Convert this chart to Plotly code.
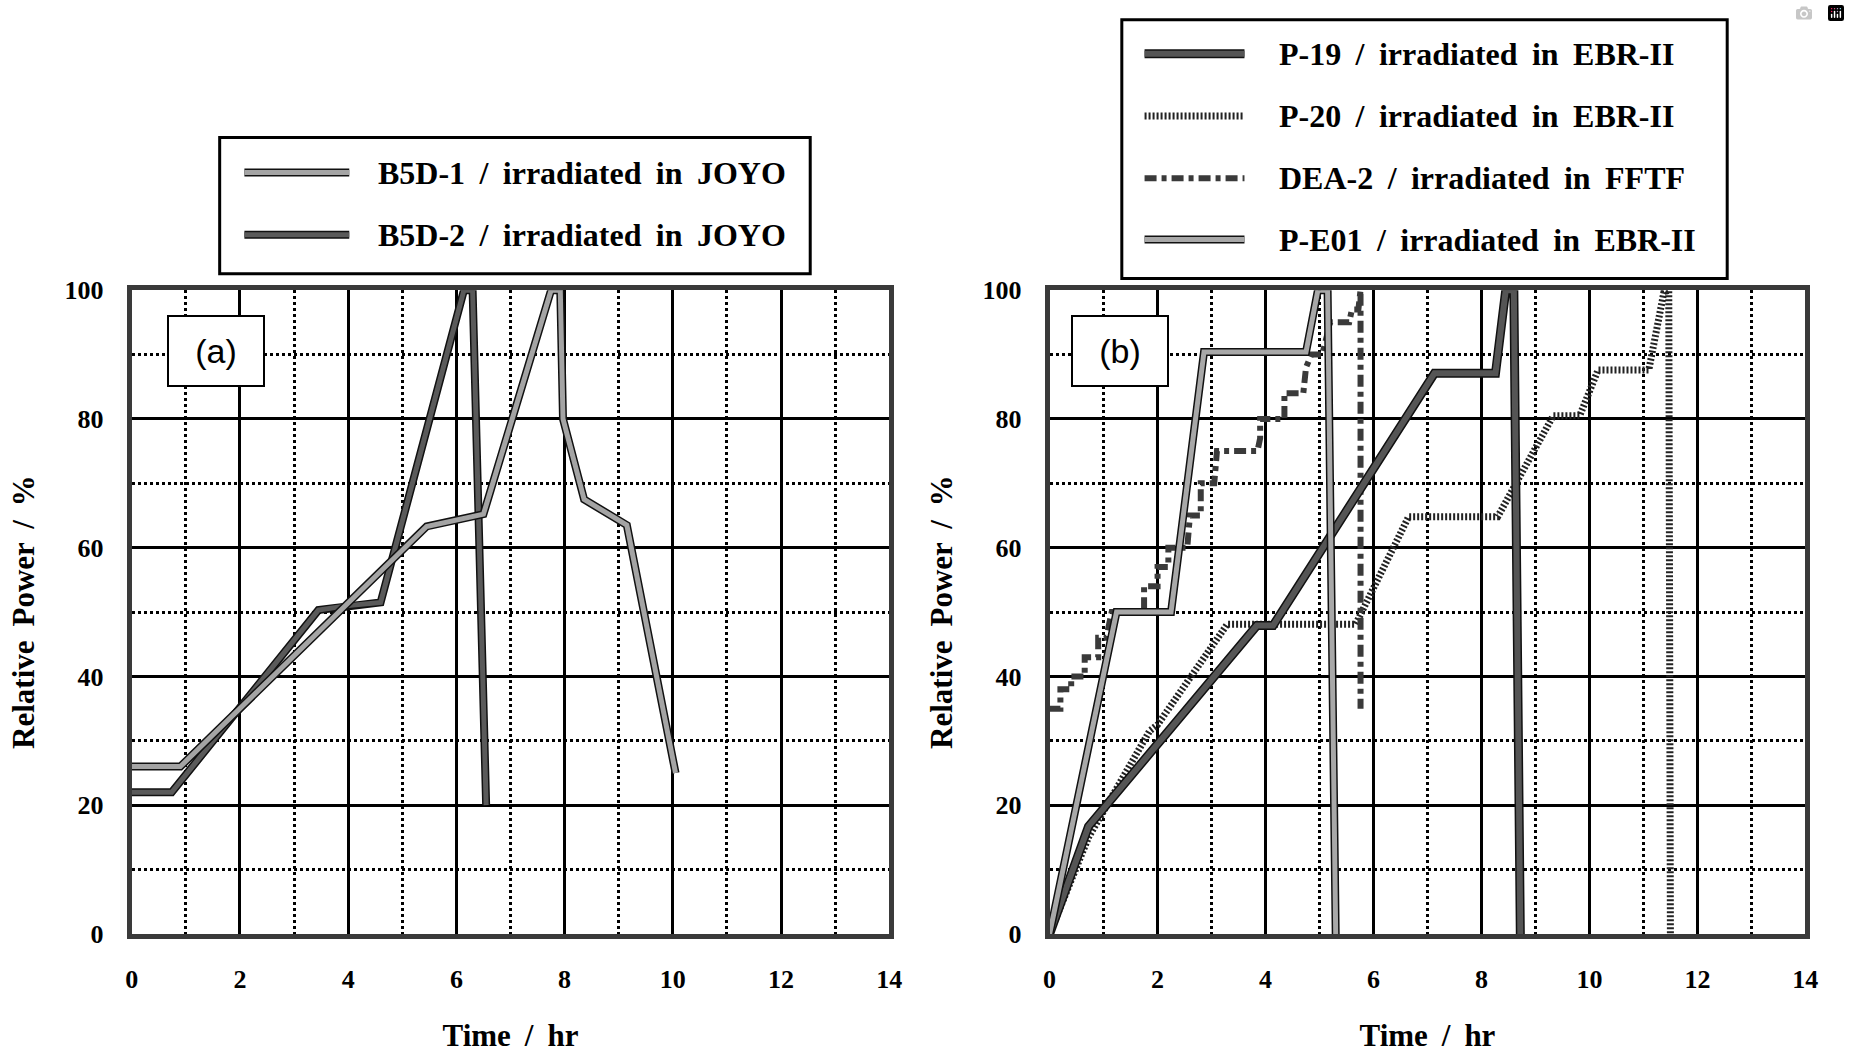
import plotly.graph_objects as go

W, H = 1850, 1053

# ---------------- data ----------------
# Panel (a)
b5d1_t = [0, 0.9, 5.45, 6.5, 7.75, 7.92, 7.97, 8.36, 9.15, 10.05]
b5d1_p = [26, 26, 63.3, 65.2, 100, 100, 80, 67.5, 63.5, 25]
b5d2_t = [0, 0.74, 3.45, 4.0, 4.6, 6.14, 6.3, 6.55]
b5d2_p = [22, 22, 50.3, 51, 51.5, 100, 100, 20]

# Panel (b)
p19_t = [0, 0.72, 3.84, 4.14, 7.13, 8.26, 8.45, 8.6, 8.72]
p19_p = [0, 16.7, 47.9, 47.9, 87.1, 87.1, 100, 100, 0]
p20_t = [0, 0.72, 1.85, 2.0, 3.29, 5.67, 6.65, 8.3, 9.33, 9.82, 10.16, 11.1, 11.38, 11.47, 11.5]
p20_p = [0, 15, 31.5, 32.5, 48.1, 48.1, 64.8, 64.8, 80.5, 80.5, 87.6, 87.6, 99.7, 100, 0]
dea2_t = [0, 0.2, 0.2, 0.4, 0.4, 0.65, 0.65, 0.9, 0.9, 1.05, 1.15, 1.75, 1.75, 2.0, 2.0, 2.2, 2.2,
          2.55, 2.6, 2.8, 2.8, 3.05, 3.1, 3.85, 3.9, 3.9, 4.35, 4.35, 4.7, 4.75, 4.85, 5.05, 5.2,
          5.55, 5.6, 5.72, 5.76, 5.76]
dea2_p = [35, 35, 38, 38, 40, 40, 43, 43, 46, 46, 50, 50, 54, 54, 57, 57, 60,
          60, 65, 65, 70, 70, 75, 75, 77, 80, 80, 84, 84, 88, 90, 90, 95,
          95, 97, 97, 100, 35]
pe01_t = [0, 1.24, 2.25, 2.86, 4.75, 4.97, 5.15, 5.3]
pe01_p = [0, 50, 50, 90.4, 90.4, 100, 100, 0]

x_ticks = [0, 2, 4, 6, 8, 10, 12, 14]
y_ticks = [0, 20, 40, 60, 80, 100]
x_title = "Time / hr"
y_title = "Relative Power / %"

names_a = ["B5D-1 / irradiated in JOYO", "B5D-2 / irradiated in JOYO"]
names_b = ["P-19 / irradiated in EBR-II", "P-20 / irradiated in EBR-II",
           "DEA-2 / irradiated in FFTF", "P-E01 / irradiated in EBR-II"]

# ---------------- styles ----------------
SERIF = "Liberation Serif"
st_b5d1 = dict(color="#a4a4a4", width=5, dash="solid", outline=True)
st_b5d2 = dict(color="#5a5a5a", width=5, dash="solid", outline=True)
st_p19 = dict(color="#555555", width=6, dash="solid", outline=True)
st_p20 = dict(color="#222222", width=7, dash="2px,2px", outline=False)
st_dea2 = dict(color="#3a3a3a", width=6, dash="12px,5px,5px,5px", outline=False)
st_pe01 = dict(color="#a8a8a8", width=5, dash="solid", outline=True)


def px(x):
    return x / W


def py(y):
    return 1 - y / H


def wide(s):
    # the original typesetting uses generous word spacing
    return s.replace(" ", " \u2009")


fig = go.Figure()


def add_series(t, p, st, name, xa, ya):
    if st["outline"]:
        fig.add_trace(go.Scatter(x=t, y=p, mode="lines", xaxis=xa, yaxis=ya,
                                 line=dict(color="#111111", width=st["width"] + 3),
                                 showlegend=False, hoverinfo="skip"))
    fig.add_trace(go.Scatter(x=t, y=p, mode="lines", name=name, xaxis=xa, yaxis=ya,
                             line=dict(color=st["color"], width=st["width"], dash=st["dash"]),
                             showlegend=False))


add_series(b5d2_t, b5d2_p, st_b5d2, names_a[1], "x", "y")
add_series(b5d1_t, b5d1_p, st_b5d1, names_a[0], "x", "y")

add_series(p20_t, p20_p, st_p20, names_b[1], "x2", "y2")
add_series(dea2_t, dea2_p, st_dea2, names_b[2], "x2", "y2")
add_series(p19_t, p19_p, st_p19, names_b[0], "x2", "y2")
add_series(pe01_t, pe01_p, st_pe01, names_b[3], "x2", "y2")

tick_font = dict(family=SERIF, size=26, color="black")
title_font = dict(family=SERIF, size=31, color="black")


def xaxis(domain, anchor):
    return dict(domain=domain, anchor=anchor, range=[0, 14], tickvals=x_ticks,
                ticktext=["<b>%d</b>" % v for v in x_ticks],
                showgrid=True, gridcolor="black", gridwidth=2.5,
                minor=dict(dtick=1, tick0=0, showgrid=True, gridcolor="black",
                           gridwidth=2.5, griddash="dot"),
                showline=True, linecolor="#3a3a3a", linewidth=5, mirror=True,
                ticks="", tickfont=tick_font, ticklabelstandoff=18,
                title=dict(text="<b>" + wide(x_title) + "</b>", font=title_font, standoff=34),
                zeroline=False, fixedrange=True)


def yaxis(domain, anchor):
    return dict(domain=domain, anchor=anchor, range=[0, 100], tickvals=y_ticks,
                ticktext=["<b>%d</b>" % v for v in y_ticks],
                showgrid=True, gridcolor="black", gridwidth=2.5,
                minor=dict(dtick=10, tick0=0, showgrid=True, gridcolor="black",
                           gridwidth=2.5, griddash="dot"),
                showline=True, linecolor="#3a3a3a", linewidth=5, mirror=True,
                ticks="", tickfont=tick_font, ticklabelstandoff=18,
                title=dict(text="<b>" + wide(y_title) + "</b>", font=title_font, standoff=22),
                zeroline=False, fixedrange=True)


ydom = [py(946), py(284)]
fig.update_layout(
    width=W, height=H, autosize=False,
    margin=dict(l=0, r=0, t=0, b=0),
    paper_bgcolor="white", plot_bgcolor="white",
    showlegend=False,
    xaxis=xaxis([px(126), px(892)], "y"),
    yaxis=yaxis(ydom, "x"),
    xaxis2=xaxis([px(1054), px(1818)], "y2"),
    yaxis2=yaxis(ydom, "x2"),
)

shapes = []
annotations = []


def legend_box(x0, y0, x1, y1, sx0, sx1, tx, rows, names, styles, fsize):
    shapes.append(dict(type="rect", xref="paper", yref="paper",
                       x0=px(x0), x1=px(x1), y0=py(y1), y1=py(y0),
                       line=dict(color="black", width=3), fillcolor="white", layer="above"))
    for ry, nm, st in zip(rows, names, styles):
        if st["outline"]:
            shapes.append(dict(type="line", xref="paper", yref="paper",
                               x0=px(sx0), x1=px(sx1), y0=py(ry), y1=py(ry),
                               line=dict(color="#111111", width=st["width"] + 3), layer="above"))
        shapes.append(dict(type="line", xref="paper", yref="paper",
                           x0=px(sx0), x1=px(sx1), y0=py(ry), y1=py(ry),
                           line=dict(color=st["color"], width=st["width"], dash=st["dash"]),
                           layer="above"))
        annotations.append(dict(xref="paper", yref="paper", x=px(tx), y=py(ry),
                                xanchor="left", yanchor="middle", showarrow=False,
                                text="<b>" + wide(nm) + "</b>",
                                font=dict(family=SERIF, size=fsize, color="black")))


legend_box(215, 127, 812, 267, 240, 346, 373, [163, 227], names_a,
           [st_b5d1, st_b5d2], 32)
legend_box(1127, 6, 1739, 272, 1150, 1251, 1284, [41, 105, 169, 232], names_b,
           [st_p19, st_p20, st_dea2, st_pe01], 32)

for lab, x0 in (("(a)", 162), ("(b)", 1076)):
    annotations.append(dict(xref="paper", yref="paper", x=px(x0), y=py(310),
                            xanchor="left", yanchor="top", showarrow=False,
                            text=lab, width=92, height=66, align="center", valign="middle",
                            bordercolor="black", borderwidth=2, bgcolor="white",
                            font=dict(family="Liberation Sans", size=34, color="black")))

fig.update_layout(shapes=shapes, annotations=annotations)

fig.write_html("out.html", post_script="document.body.style.margin='0px';")
